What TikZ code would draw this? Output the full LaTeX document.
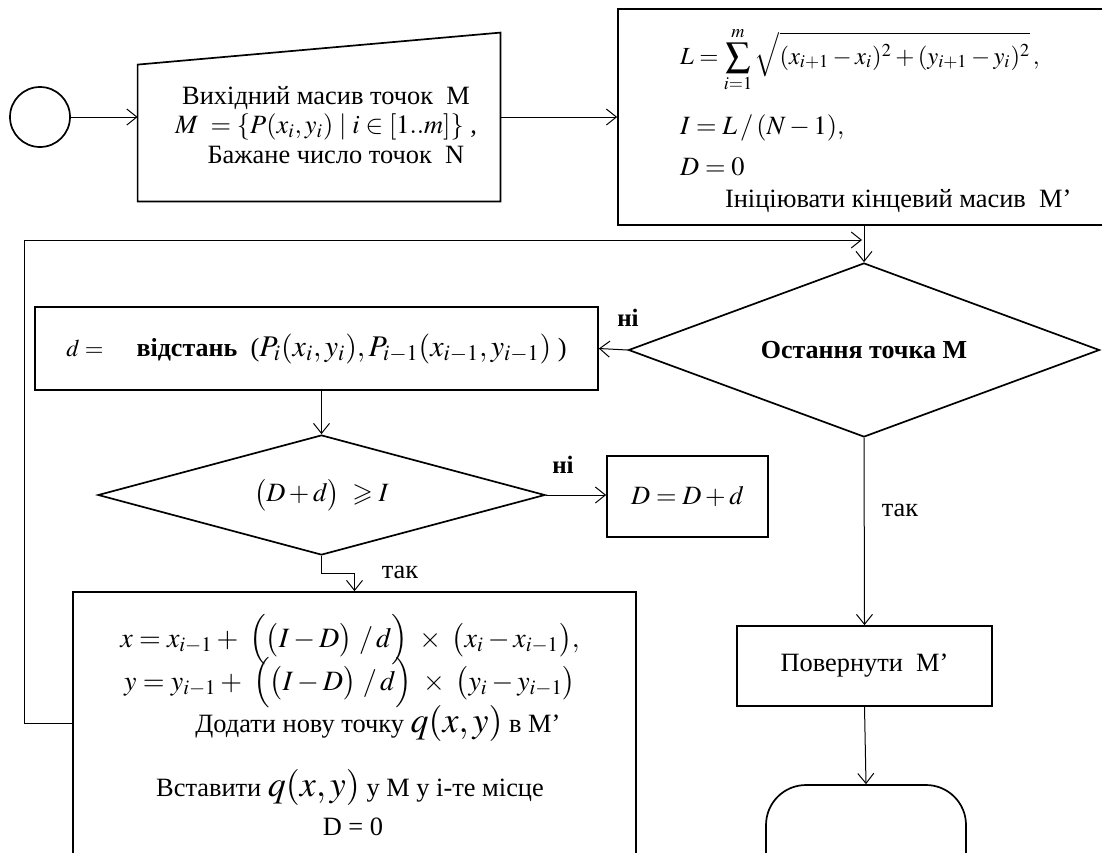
\documentclass[tikz,border=0pt]{standalone}
\usepackage{mathptmx}
\usepackage{amssymb}
\usepackage[no-math]{fontspec}
\setmainfont{Liberation Serif}
\newfontfamily\tms{Liberation Serif}
\usetikzlibrary{shapes.geometric,arrows.meta,positioning}

\tikzset{
  blok/.style={draw, rectangle, line width=0.85pt, inner sep=0pt},
  romb/.style={draw, diamond, line width=0.85pt, inner sep=0pt},
  strilka/.style={-{Straight Barb[length=5pt,width=8pt]}, line width=0.5pt},
  napys/.style={font=\tms\fontsize{13.2}{14}\selectfont},
}

\begin{document}
\begin{tikzpicture}[x=0.5pt, y=-0.5pt, napys]
  \path[use as bounding box, clip] (0,0) rectangle (1102,852);
  \fill[white] (0,0) rectangle (1102,852);

  % start and input data
  \node[draw, circle, line width=0.85pt, minimum size=30pt] (start) at (40,117) {};
  \node[rectangle, minimum width=181pt, minimum height=84pt] (vhid) at (319,117) {};
  \draw[line width=0.85pt] (vhid.south west) -- (vhid.south east) -- (vhid.north east)
      -- ([yshift=-16pt]vhid.north west) -- cycle;
  \node[align=center] (vhidtxt) at (326,125) {Вихідний масив точок \ M\\[0.6pt]
      $M\ =\{P(x_i,y_i)\mid i\in[1..m]\}$ ,\\[0.6pt]
      \ \ \ Бажане число точок \ N};

  % initialisation
  \node[blok, minimum width=251pt, minimum height=108pt] (init) at (869,117) {};
  \node[anchor=base west, font=\fontsize{12.3}{14}\selectfont] (fL) at (673,64)
      {$\displaystyle L=\sum_{i=1}^{m}\sqrt{(x_{i+1}-x_i)^2+(y_{i+1}-y_i)^2}\,,$};
  \node[anchor=base west] (fI) at (673,134) {$I=L\,/\,(N-1),$};
  \node[anchor=base west] (fD) at (673,175) {$D=0$};
  \node[anchor=base west] (fM) at (718,207) {Ініціювати кінцевий масив \ M’};

  % loop test
  \node[romb, aspect=2.7, minimum width=235.5pt, minimum height=87pt,
        font=\tms\bfseries\fontsize{13}{14}\selectfont] (rozg) at (864,350) {Остання точка M};
  \node[blok, minimum width=281.5pt, minimum height=41.5pt] (vidst) at (316.5,348.5)
      {{\fontsize{12}{12}\selectfont$d=$}\quad\ {\fontsize{13}{13}\selectfont\bfseries відстань}\ \ ({\fontsize{15}{17}\selectfont$P_i(x_i,y_i),P_{i-1}(x_{i-1},y_{i-1})$}\ )};
  \node[romb, aspect=3.7, minimum width=223.5pt, minimum height=60pt] (umova) at (321.5,495)
      {$\bigl(D+d\bigr)\ \geqslant I$};
  \node[blok, minimum width=80.5pt, minimum height=40.5pt] (dplus) at (687.5,496.5) {$D=D+d$};

  % new point
  \node[blok, minimum width=281.5pt, minimum height=144pt] (obch) at (354.5,736) {};
  \node[font=\fontsize{14}{16}\selectfont] (fx) at (350,640)
      {$x=x_{i-1}+\ \Bigl(\bigl(I-D\bigr)\ /\,d\Bigr)\ \times\ \bigl(x_i-x_{i-1}\bigr),$};
  \node[font=\fontsize{14}{16}\selectfont] (fy) at (350,683)
      {$y=y_{i-1}+\ \Bigl(\bigl(I-D\bigr)\ /\,d\Bigr)\ \times\ \bigl(y_i-y_{i-1}\bigr)$};
  \node (dodaty) at (378,723) {Додати нову точку {\fontsize{18}{20}\selectfont$q(x,y)$} в M’};
  \node (vstavyty) at (350,787) {Вставити {\fontsize{18}{20}\selectfont$q(x,y)$} у M у i-те місце};
  \node (dnul) at (353,827) {D = 0};

  % exit
  \node[blok, minimum width=127.5pt, minimum height=40pt] (povern) at (864.5,666) {Повернути \ M’};
  \node[draw, rectangle, rounded corners=20pt, line width=0.85pt,
        minimum width=100pt, minimum height=55pt] (kin) at (866,840) {};

  \node[font=\tms\bfseries\fontsize{12.5}{13}\selectfont] (ni1) at (628,318) {ні};
  \node[font=\tms\bfseries\fontsize{12.5}{13}\selectfont] (ni2) at (563,465) {ні};
  \node (tak1) at (400,572) {так};
  \node (tak2) at (900,510) {так};

  \coordinate (kut) at (24,240);
  \coordinate (vhidR) at (862,240);

  % connectors
  \draw[strilka] (start.east) -- (vhid.west);
  \draw[strilka] (vhid.east) -- (init.west);
  \draw[strilka] (init.south -| rozg.north) -- (rozg.north);
  \draw[strilka] (rozg.west) -- (vidst.east);
  \draw[strilka] (umova.north |- vidst.south) -- (umova.north);
  \draw[strilka] (umova.east) -- (umova.east -| dplus.west);
  \draw[strilka] (umova.south) -- ++(0,18) -| (obch.north);
  \draw[strilka] ([yshift=6.5pt]obch.west) -| (kut) -- (vhidR);
  \draw[strilka] (rozg.south) -- (povern.north);
  \draw[strilka] (povern.south) -- (kin.north);
\end{tikzpicture}
\end{document}
